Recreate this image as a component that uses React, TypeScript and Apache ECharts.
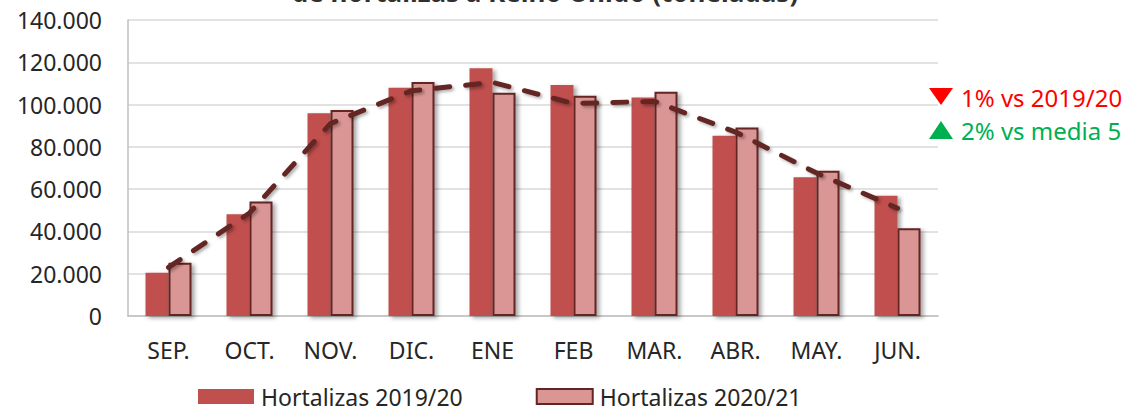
import React, { useEffect, useRef } from "react";
import * as echarts from "echarts";

const categories = ["SEP.", "OCT.", "NOV.", "DIC.", "ENE", "FEB", "MAR.", "ABR.", "MAY.", "JUN."];
const series2019 = [20500, 48100, 95900, 108000, 117200, 109300, 103400, 85300, 65600, 56900];
const series2020 = [25200, 54100, 97400, 110700, 105600, 104200, 106100, 89100, 68700, 41500];
const media5 = [23000, 48700, 91000, 106500, 110500, 100500, 101500, 87000, 67600, 51000];
const yTicks = { min: 0, max: 140000, interval: 20000 };
const legendNames = ["Hortalizas 2019/20", "Hortalizas 2020/21"];
const titleText = "de hortalizas a Reino Unido (toneladas)";
const note1 = "1% vs 2019/20";
const note2 = "2% vs media 5";

const FONT = "Noto Sans";

function fmt(v: number): string {
  return String(Math.round(v)).replace(/\B(?=(\d{3})+(?!\d))/g, ".");
}

export default function App() {
  const ref = useRef<HTMLDivElement>(null);
  useEffect(() => {
    if (!ref.current) return;
    const chart = echarts.init(ref.current, null, { renderer: "svg" });
    chart.setOption({
      animation: false,
      backgroundColor: "#ffffff",
      textStyle: { fontFamily: FONT },
      grid: { left: 128, right: 192, top: 20, bottom: 92, containLabel: false },
      legend: {
        data: legendNames,
        left: 198,
        top: 385,
        padding: 0,
        itemWidth: 56,
        itemHeight: 15,
        itemGap: 73,
        icon: "rect",
        textStyle: { fontFamily: FONT, fontSize: 23, lineHeight: 22, color: "#262626", padding: [0, 0, 0, 2] },
      },
      xAxis: {
        type: "category",
        data: categories,
        axisLine: { show: true, lineStyle: { color: "#bfbfbf", width: 1.5 } },
        axisTick: { show: false },
        axisLabel: { fontFamily: FONT, fontSize: 23, color: "#262626", margin: 22 },
      },
      yAxis: {
        type: "value",
        min: yTicks.min,
        max: yTicks.max,
        interval: yTicks.interval,
        axisLine: { show: true, lineStyle: { color: "#bfbfbf", width: 1.5 } },
        axisTick: { show: false },
        axisLabel: { fontFamily: FONT, fontSize: 23, color: "#262626", margin: 26, formatter: (v: number) => fmt(v) },
        splitLine: { lineStyle: { color: "#d9d9d9", width: 1.5 } },
      },
      series: [
        {
          name: legendNames[0],
          type: "bar",
          data: series2019,
          barWidth: 23,
          barGap: "0%",
          itemStyle: {
            color: "#c0504d",
            shadowColor: "rgba(0,0,0,0.35)",
            shadowBlur: 4,
            shadowOffsetX: 3,
            shadowOffsetY: 2,
          },
        },
        {
          name: legendNames[1],
          type: "bar",
          data: series2020,
          barWidth: 23,
          barGap: "0%",
          itemStyle: {
            color: "#d99694",
            borderColor: "#632523",
            borderWidth: 2,
            shadowColor: "rgba(0,0,0,0.35)",
            shadowBlur: 4,
            shadowOffsetX: 3,
            shadowOffsetY: 2,
          },
        },
        {
          name: "Media 5 años",
          type: "line",
          data: media5,
          z: 5,
          symbol: "none",
          smooth: false,
          lineStyle: {
            color: "#632523",
            width: 5,
            type: [14, 16],
            cap: "round",
            shadowColor: "rgba(0,0,0,0.3)",
            shadowBlur: 3,
            shadowOffsetX: 2,
            shadowOffsetY: 2,
          },
        },
      ],
      graphic: [
        {
          type: "text",
          style: {
            text: titleText,
            x: 545,
            y: 5,
            align: "center",
            verticalAlign: "bottom",
            font: `bold 26px "${FONT}"`,
            fill: "#303030",
          },
        },
        {
          type: "polygon",
          shape: { points: [[929, 88], [953, 88], [941, 105]] },
          style: { fill: "#ff0000" },
        },
        {
          type: "text",
          style: {
            text: note1,
            x: 961,
            y: 97,
            verticalAlign: "middle",
            font: `24px "${FONT}"`,
            fill: "#ff0000",
          },
        },
        {
          type: "polygon",
          shape: { points: [[929, 139], [953, 139], [941, 121]] },
          style: { fill: "#00b050" },
        },
        {
          type: "text",
          style: {
            text: note2,
            x: 961,
            y: 130,
            verticalAlign: "middle",
            font: `24px "${FONT}"`,
            fill: "#00b050",
          },
        },
      ],
    });
    return () => chart.dispose();
  }, []);
  return <div ref={ref} style={{ width: 1130, height: 408, position: "absolute", left: 0, top: 0 }} />;
}
